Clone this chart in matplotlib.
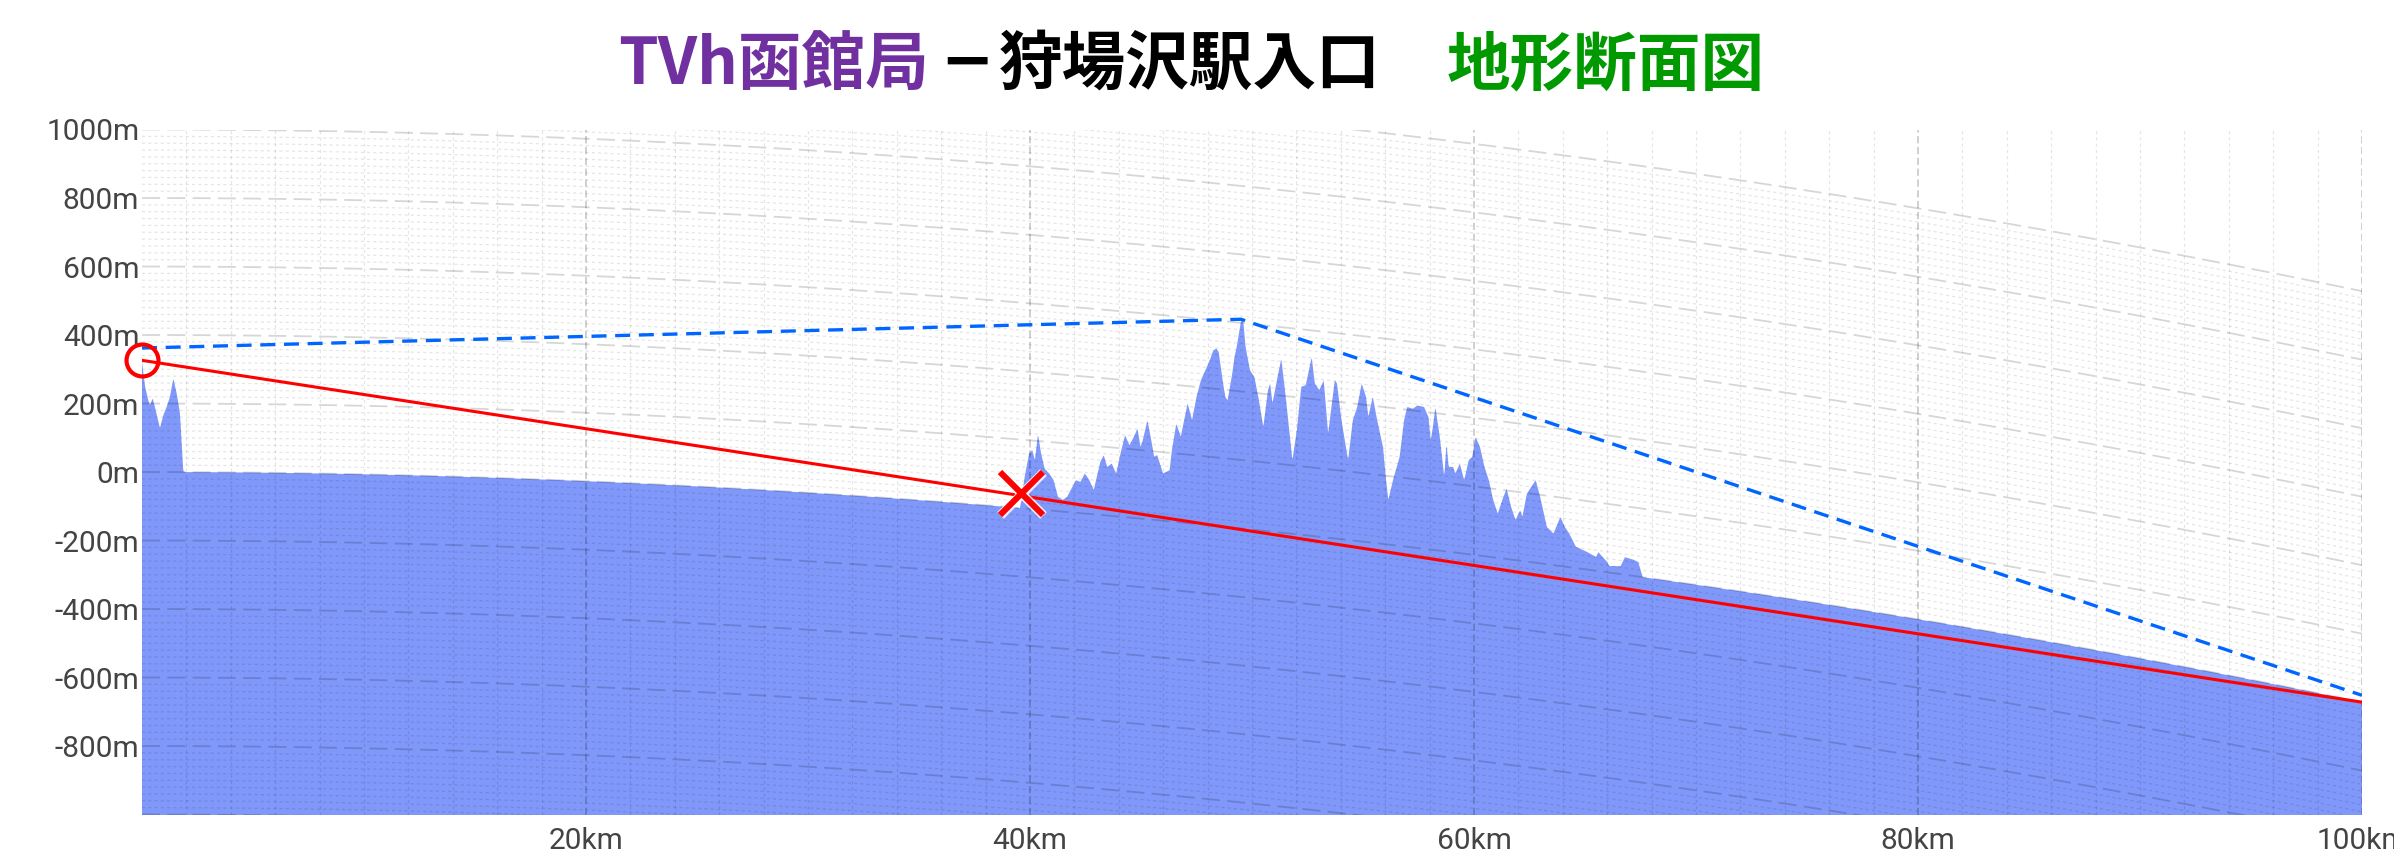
import numpy as np
import matplotlib
matplotlib.use("Agg")
import matplotlib.pyplot as plt
import matplotlib.patheffects as pe

W, H, DPI = 2394, 857, 100

# ---------------- data ----------------
title_from = "TVh函館局"
title_dash = "−"
title_to = "狩場沢駅入口"
title_kind = "地形断面図"

x_ticks_km = [20, 40, 60, 80, 100]
x_tick_labels = ["20km", "40km", "60km", "80km", "100km"]
y_ticks_m = [-800, -600, -400, -200, 0, 200, 400, 600, 800, 1000]
y_tick_labels = ["-800m", "-600m", "-400m", "-200m", "0m", "200m", "400m", "600m", "800m", "1000m"]

# terrain elevation (m) along the path (km)
terrain_km = [0.0, 0.14, 0.28, 0.36, 0.48, 0.58, 0.81, 0.96, 1.11, 1.26, 1.41, 1.56, 1.71, 1.86, 2.0,
              39.55, 39.76, 39.96, 40.10, 40.22, 40.36, 40.50, 40.66, 40.86, 41.06, 41.26, 41.47,
              41.67, 42.07, 42.27, 42.47, 42.67, 42.87, 43.17, 43.32, 43.48, 43.68, 43.88, 44.08,
              44.28, 44.48, 44.68, 44.84, 44.98, 45.08, 45.29, 45.49, 45.59, 45.73, 45.99, 46.29,
              46.39, 46.59, 46.79, 47.10, 47.30, 47.50, 47.70, 47.90, 48.10, 48.26, 48.40, 48.50,
              48.70, 48.80, 48.90, 49.11, 49.21, 49.31, 49.51, 49.61, 49.71, 49.91, 50.11, 50.31,
              50.51, 50.72, 50.82, 50.92, 51.12, 51.32, 51.52, 51.82, 52.02, 52.22, 52.42, 52.69,
              52.83, 53.03, 53.23, 53.43, 53.73, 53.83, 54.03, 54.13, 54.33, 54.54, 54.74, 54.94,
              55.14, 55.24, 55.44, 55.64, 55.90, 56.04, 56.14, 56.35, 56.65, 56.85, 56.99, 57.25,
              57.45, 57.75, 57.95, 58.05, 58.15, 58.26, 58.46, 58.56, 58.66, 58.76, 58.86, 59.06,
              59.16, 59.36, 59.56, 59.76, 59.92, 60.07, 60.27, 60.47, 60.67, 60.87, 61.07, 61.27,
              61.47, 61.67, 61.87, 62.08, 62.18, 62.38, 62.58, 62.78, 62.98, 63.28, 63.58, 63.89,
              64.09, 64.29, 64.59, 64.7, 65.1, 65.5, 65.6, 66.0, 66.1, 66.6, 66.8, 67.2, 67.4,
              67.6, 100.0]
terrain_elev = [321, 249, 210, 195, 215, 190, 128, 166, 190, 220, 273, 230, 172, 1, 0,
                0, 92, 161, 172, 143, 220, 164, 121, 108, 90, 42, 34,
                44, 95, 91, 117, 99, 71, 155, 175, 142, 153, 125, 185,
                239, 211, 237, 262, 209, 229, 289, 222, 184, 190, 138, 149,
                208, 287, 250, 349, 302, 371, 421, 451, 482, 512, 518, 508,
                417, 379, 370, 449, 498, 528, 607, 603, 531, 464, 446, 380,
                303, 412, 432, 374, 443, 508, 397, 215, 304, 432, 438, 522,
                446, 428, 458, 304, 462, 453, 347, 309, 233, 351, 391, 461,
                423, 366, 426, 359, 283, 187, 130, 189, 260, 368, 408, 405,
                416, 414, 386, 319, 359, 418, 332, 274, 217, 315, 248, 249,
                231, 261, 214, 274, 285, 345, 317, 261, 223, 166, 129, 170,
                205, 154, 117, 147, 129, 198, 220, 241, 194, 109, 92, 143,
                116, 98, 62, 60, 51, 40, 55, 30, 19, 23, 51, 47, 42,
                0, 0]

# apparent heights of the straight lines (m)
path_km = [0.0, 100.0]
path_m = [326, -672]
sight_km = [0.0, 49.5, 100.0]
sight_m = [362, 446, -652]
tx_km, tx_m = 0.0, 326
block_km, block_m = 39.6, -62

EARTH_R_EFF_KM = 7440.0
GRID_TOP_M = 1200

# ---------------- helpers ----------------
def drop_m(km):
    km = np.asarray(km, dtype=float)
    return km ** 2 / (2.0 * EARTH_R_EFF_KM) * 1000.0

fig = plt.figure(figsize=(W / DPI, H / DPI), dpi=DPI)
fig.patch.set_facecolor("white")
L, R, T, B = 142, 2362, 129.5, 814.5
ax = fig.add_axes([L / W, 1 - B / H, (R - L) / W, (B - T) / H])
ax.set_xlim(0, 100)
ax.set_ylim(-1000, 1000)
for s in ax.spines.values():
    s.set_visible(False)

# terrain
xd = np.linspace(0, 100, 4001)
elev = np.interp(xd, terrain_km, terrain_elev)
ax.fill_between(xd, elev - drop_m(xd), -3000, color="#7f98f9", lw=0, zorder=1)

# curved horizontal grid
xg = np.linspace(0, 100, 401)
for h in range(-2000, GRID_TOP_M + 1, 20):
    y = h - drop_m(xg)
    if h % 200 == 0:
        ax.plot(xg, y, color=(0, 0, 0, 0.16), lw=1.3, ls=(0, (10, 4)), zorder=2)
    else:
        ax.plot(xg, y, color=(0, 0, 0, 0.10), lw=0.9, ls=(0, (2.5, 2.5)), zorder=2)

# vertical grid
for k in range(2, 101, 2):
    if k % 20 == 0:
        ax.axvline(k, color=(0, 0, 0, 0.2), lw=1.3, ls=(0, (4, 2)), zorder=2)
    else:
        ax.axvline(k, color=(0, 0, 0, 0.10), lw=0.9, ls=(0, (2.5, 2.5)), zorder=2)

# lines
ax.plot(sight_km, sight_m, color="#0066ff", lw=2.4, ls=(0, (4.5, 2.6)), zorder=3)
ax.plot(path_km, path_m, color="#ff0000", lw=2.2, zorder=4)
ax.plot([tx_km], [tx_m], marker="o", ms=23, mfc="none", mec="#ff0000", mew=3.0,
        zorder=5, clip_on=False)
ax.plot([block_km], [block_m], marker="x", ms=31, mec="#ff0000", mew=4.4, zorder=5,
        path_effects=[pe.Stroke(linewidth=6.8, foreground=(1, 1, 1, 0.8)), pe.Normal()])

# ticks
ax.set_xticks(x_ticks_km)
ax.set_xticklabels(x_tick_labels)
ax.set_yticks(y_ticks_m)
ax.set_yticklabels(y_tick_labels)
ax.tick_params(length=0, labelsize=21.5, labelcolor="#444444")
ax.tick_params(axis="x", pad=9)
ax.tick_params(axis="y", pad=2)
for lab in ax.get_xticklabels() + ax.get_yticklabels():
    lab.set_fontfamily(["Roboto", "DejaVu Sans"])

# title
tf = ["Noto Sans CJK JP", "DejaVu Sans"]
fs = 45.8
base_y = 1 - 84 / H
fig.text(618 / W, base_y, title_from, color="#7030a0", fontsize=fs, fontweight="bold",
         family=tf, ha="left", va="baseline")
fig.text(967 / W, 1 - 81 / H, title_dash, color="black", fontsize=fs, fontweight="bold",
         family=["DejaVu Sans"], ha="center", va="baseline")
fig.text(999 / W, base_y, title_to, color="black", fontsize=fs, fontweight="bold",
         family=tf, ha="left", va="baseline")
fig.text(1447 / W, base_y, title_kind, color="#009900", fontsize=fs, fontweight="bold",
         family=tf, ha="left", va="baseline")

fig.savefig("out.png", dpi=DPI, facecolor="white")
